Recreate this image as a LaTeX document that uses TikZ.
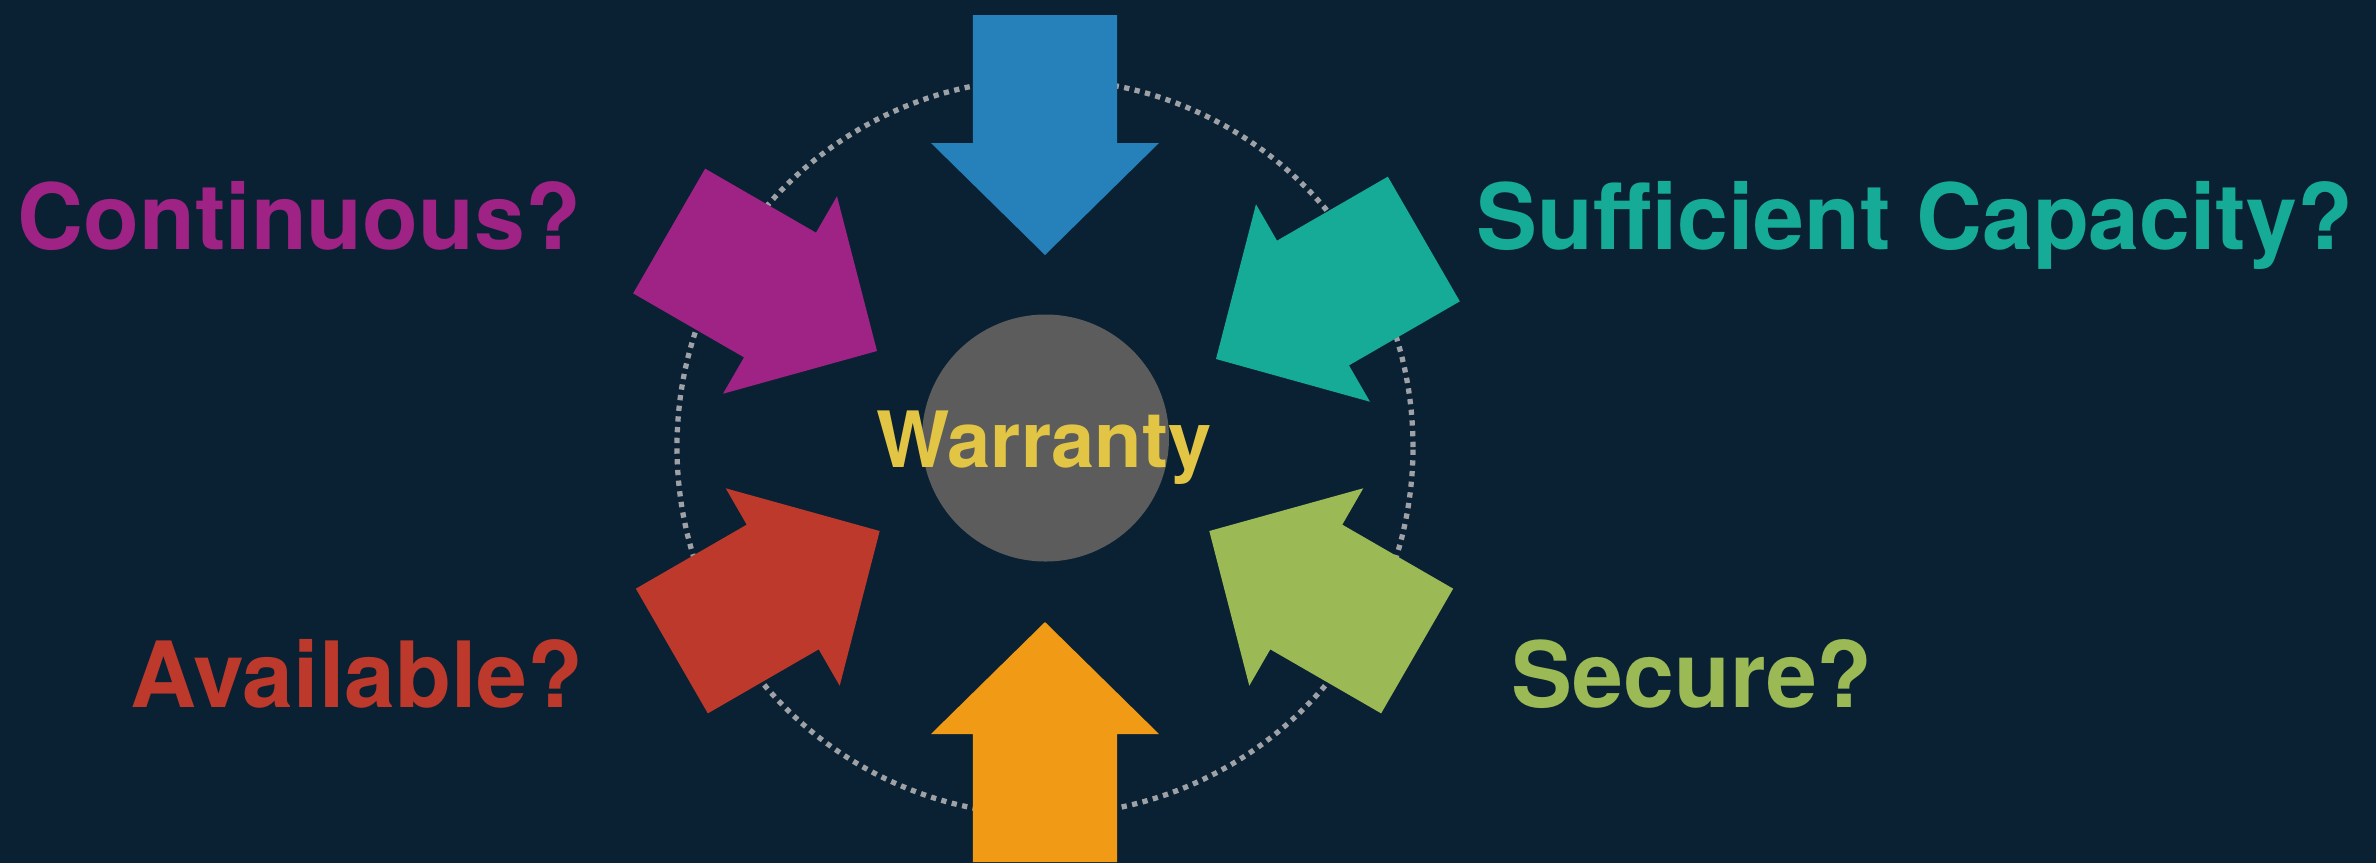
\documentclass[tikz,border=0pt]{standalone}
\usepackage{fontspec}
\setmainfont{TeX Gyre Heros}
\usepackage{xcolor}
\usepackage{tikz}
\usetikzlibrary{positioning}

\definecolor{fondo}{HTML}{0A2133}
\definecolor{anillo}{HTML}{9EA2A6}
\definecolor{nucleo}{HTML}{5C5C5C}
\definecolor{oro}{HTML}{E2C544}
\definecolor{azul}{HTML}{2680BA}
\definecolor{naranja}{HTML}{F19A15}
\definecolor{magenta}{HTML}{9E2385}
\definecolor{turquesa}{HTML}{16AB96}
\definecolor{verde}{HTML}{9BBA56}
\definecolor{rojo}{HTML}{BD392C}

\begin{document}
\begin{tikzpicture}[every node/.style={inner sep=0pt},
  pregunta/.style={font=\fontsize{26pt}{30pt}\selectfont\bfseries, anchor=base west}]

  % Fondo
  \useasboundingbox (-10.45,-4.24) rectangle (13.31,4.38);
  \fill[fondo] (-10.5,-4.3) rectangle (13.4,4.45);

  % Anillo punteado
  \draw[anillo, line width=1.5pt, dash pattern=on 1.5pt off 1.55pt] (0,-0.09) circle (3.68);

  % Flechas
\foreach \x/\y/\dir/\col in {0/1.83/-90/azul, 0/-1.84/90/naranja, -1.68/0.87/-30/magenta,
    1.71/0.79/-150/turquesa, 1.643/-0.93/150/verde, -1.653/-0.93/30/rojo}
\fill[\col, shift={(\x,\y)}, rotate=\dir] (0,0) -- (-1.12,1.14) -- (-1.12,0.72) -- (-2.40,0.72)
    -- (-2.40,-0.72) -- (-1.12,-0.72) -- (-1.12,-1.14) -- cycle;

  % Centro
  \node[circle, fill=nucleo, minimum size=2.47cm] (centro) at (0.005,0) {};
  \node[font=\fontsize{22.1pt}{26pt}\selectfont\bfseries, text=oro, anchor=base] (garantia)
    at (-0.01,-0.293) {Warranty};

  % Preguntas
  \node[pregunta, text=magenta] (p1) at (-10.28,1.89) {Continuous?};
  \node[pregunta, text=turquesa] (p2) at (4.31,1.89) {Sufficient Capacity?};
  \node[pregunta, text=rojo] (p3) at (-9.15,-2.69) {Available?};
  \node[pregunta, text=verde] (p4) at (4.66,-2.69) {Secure?};

\end{tikzpicture}
\end{document}
